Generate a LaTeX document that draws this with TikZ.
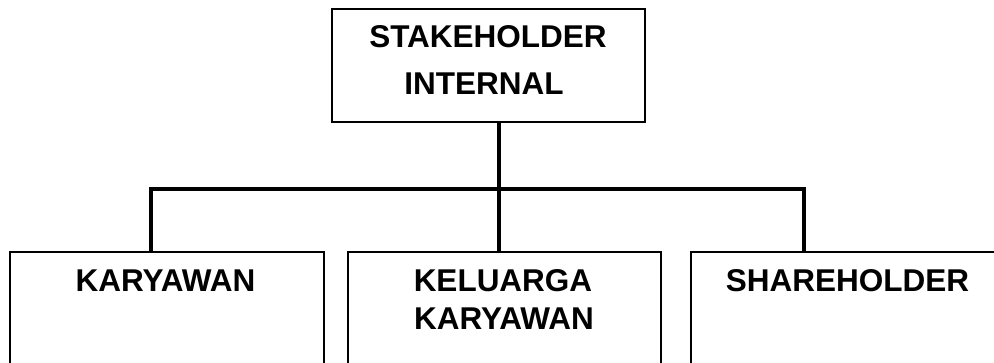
\documentclass[tikz,border=0pt]{standalone}
\usepackage{fontspec}
\setmainfont{Liberation Sans}
\begin{document}
\begin{tikzpicture}[x=1pt,y=-1pt,
  boxthick/.style={draw=black,line width=2pt,rectangle,inner sep=0pt},
  boxthin/.style={draw=black,line width=1.6pt,rectangle,inner sep=0pt},
  conn/.style={draw=black,line width=4pt,line join=miter,line cap=rect},
  lbl/.style={anchor=base,inner sep=0pt,font=\fontsize{31.5}{38}\bfseries\selectfont}]
\useasboundingbox (0,0) rectangle (994,363);
\clip (0,0) rectangle (994,363);
\fill[white] (0,0) rectangle (994,363);
% boxes
\node[boxthick,minimum width=313pt,minimum height=113pt] (top) at (488.5,65.5) {};
\node[boxthin,minimum width=314pt,minimum height=168pt] (b1) at (167,336) {};
\node[boxthin,minimum width=313pt,minimum height=168pt] (b2) at (504.5,336) {};
\node[boxthin,minimum width=320pt,minimum height=168pt] (b3) at (851,336) {};
% labels
\node[lbl] (t1) at (488,48) {STAKEHOLDER};
\node[lbl] (t2) at (484,95) {INTERNAL};
\node[lbl] (l1) at (165.5,292) {KARYAWAN};
\node[lbl] (l2a) at (503,292) {KELUARGA};
\node[lbl] (l2b) at (504,330) {KARYAWAN};
\node[lbl] (l3) at (847.5,292) {SHAREHOLDER};
% connectors
\coordinate (jl) at (151,189);
\coordinate (jm) at (499,189);
\coordinate (jr) at (804,189);
\draw[conn,line cap=butt] (top.south -| jm) -- (jm);
\draw[conn,line cap=butt] (b1.north -| jl) -- (jl) -- (jr) -- (b3.north -| jr);
\draw[conn,line cap=butt] (jm) -- (b2.north -| jm);
\end{tikzpicture}
\end{document}
